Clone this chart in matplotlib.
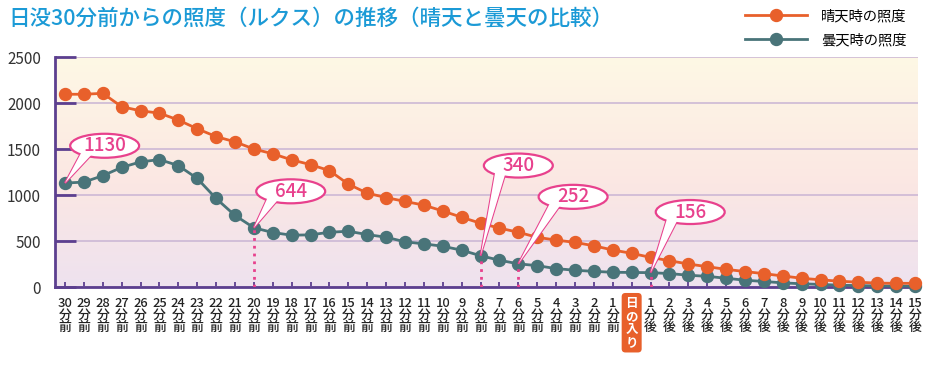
import numpy as np
import matplotlib
matplotlib.use("Agg")
import matplotlib.pyplot as plt
from matplotlib.patches import Ellipse, Polygon

plt.rcParams['font.family'] = ['Noto Sans CJK JP', 'DejaVu Sans']

# ── data ──
minutes = list(range(30, 0, -1)) + [0] + list(range(1, 16))   # 0 = sunset
suffix = ["前"] * 30 + [""] + ["後"] * 15
sunset_label = "日\nの\n入\nり"

sunny = [2095, 2095, 2105, 1960, 1915, 1890, 1815, 1720, 1635, 1578,
         1500, 1448, 1382, 1330, 1265, 1118, 1020, 972, 930, 890,
         826, 758, 693, 640, 595, 540, 510, 485, 448, 402,
         366, 322, 286, 250, 221, 192, 168, 145, 120, 95,
         78, 63, 52, 42, 40, 40]
cloudy = [1130, 1140, 1210, 1300, 1360, 1385, 1320, 1180, 962, 778,
          644, 592, 563, 567, 595, 606, 570, 541, 491, 469,
          443, 400, 340, 291, 252, 232, 200, 182, 170, 160,
          158, 156, 146, 128, 116, 95, 74, 60, 45, 35,
          28, 20, 15, 12, 10, 8]

callout_idx = [0, 10, 22, 24, 31]
callout_val = [1130, 644, 340, 252, 156]
# ellipse centres (x index, y value)
callout_pos = [(2.1, 1535), (11.95, 1040), (24.0, 1320), (26.9, 980), (33.1, 815)]
dotted_idx = [10, 22, 24, 31]

ORANGE = "#e8602b"
TEAL = "#497479"
PINK = "#e8418d"
PURPLE = "#5c3f8f"
GRID = "#c9b4d4"
BLUE = "#1b9ad6"

W, H = 940, 370
fig = plt.figure(figsize=(W / 100, H / 100), dpi=100)
ax = fig.add_axes([55 / W, 1 - 287 / H, (918 - 55) / W, (287 - 57) / H])

step = 18.907
x0 = -10 / step
x1 = 45 + 3 / step
ax.set_xlim(x0, x1)
ax.set_ylim(0, 2500)

# background gradient: lavender bottom -> pink -> yellow top
stops = np.array([[0.0, 0xee, 0xe2, 0xef],
                  [0.45, 0xfb, 0xe7, 0xe3],
                  [1.0, 0xfe, 0xf8, 0xe5]])
t = np.linspace(0, 1, 256)
grad = np.stack([np.interp(t, stops[:, 0], stops[:, k]) for k in (1, 2, 3)], axis=1) / 255
ax.imshow(grad[:, None, :], extent=[x0, x1, 0, 2500], aspect='auto',
          origin='lower', zorder=0)

ax.set_yticks([0, 500, 1000, 1500, 2000, 2500])
ax.yaxis.grid(True, color=GRID, linewidth=1.1, zorder=1)
for s in ("top", "right"):
    ax.spines[s].set_visible(False)
for s in ("left", "bottom"):
    ax.spines[s].set_color(PURPLE)
    ax.spines[s].set_linewidth(2)
    ax.spines[s].set_zorder(3)

ax.tick_params(axis='y', direction='in', length=15, width=2, color=PURPLE,
               pad=10, labelsize=11, labelcolor="#333333")
ax.tick_params(axis='x', direction='in', length=3.5, width=1.3, color=PURPLE,
               pad=7, labelsize=9.3, labelcolor="#222222")

xs = np.arange(len(sunny))
ax.set_xticks(xs)
labels = [sunset_label if m == 0 else f"{m}\n分\n{suf}" for m, suf in zip(minutes, suffix)]
ax.set_xticklabels(labels, linespacing=0.92, va='top', fontweight='medium')
sun_lbl = ax.get_xticklabels()[minutes.index(0)]
sun_lbl.set_color("white")
sun_lbl.set_fontweight("bold")
sun_lbl.set_fontsize(9)
sun_lbl.set_linespacing(1.0)
sun_lbl.set_bbox(dict(boxstyle="round,pad=0.3,rounding_size=0.3", fc=ORANGE, ec="none"))

ax.plot(xs, cloudy, color=TEAL, lw=2, marker='o', ms=8.6, zorder=4,
        clip_on=False, label="曇天時の照度")
ax.plot(xs, sunny, color=ORANGE, lw=2, marker='o', ms=8.6, zorder=5,
        clip_on=False, label="晴天時の照度")

# dotted drop lines
ax.vlines(dotted_idx, 0, [cloudy[i] for i in dotted_idx], colors=PINK,
          linestyles=(0, (1, 1.8)), linewidth=2, zorder=6)

# callouts
ew, eh = 69 / step, 24 / 0.092
for idx, val, (cx, cy) in zip(callout_idx, callout_val, callout_pos):
    a, b = ew / 2, eh / 2
    base = [(cx + 0.85 * a * np.cos(np.radians(th)), cy + 0.85 * b * np.sin(np.radians(th)))
            for th in (218, 243)]
    tail = [base[0], (idx, cloudy[idx]), base[1]]
    ax.add_patch(Polygon(tail, closed=True, fc="white", ec=PINK, lw=1.5, zorder=7))
    ax.add_patch(Ellipse((cx, cy), ew, eh, fc="white", ec=PINK, lw=1.6, zorder=8))
    ax.add_patch(Polygon(tail, closed=True, fc="white", ec="none", zorder=9))
    ax.text(cx, cy, str(val), ha='center', va='center', color=PINK, fontsize=13.5,
            fontweight='medium', zorder=10)

fig.text(8 / W, 1 - 19 / H, "日没30分前からの照度（ルクス）の推移（晴天と曇天の比較）",
         color=BLUE, fontsize=15.5, fontweight='medium', va='center', ha='left')

h, l = ax.get_legend_handles_labels()
fig.legend(h[::-1], l[::-1], loc='upper left', bbox_to_anchor=(745 / W, 1 - 9 / H),
           frameon=False, fontsize=10.3, handlelength=4.3, handletextpad=1.0,
           labelspacing=0.7, borderpad=0, borderaxespad=0)

fig.savefig("out.png", dpi=100)
